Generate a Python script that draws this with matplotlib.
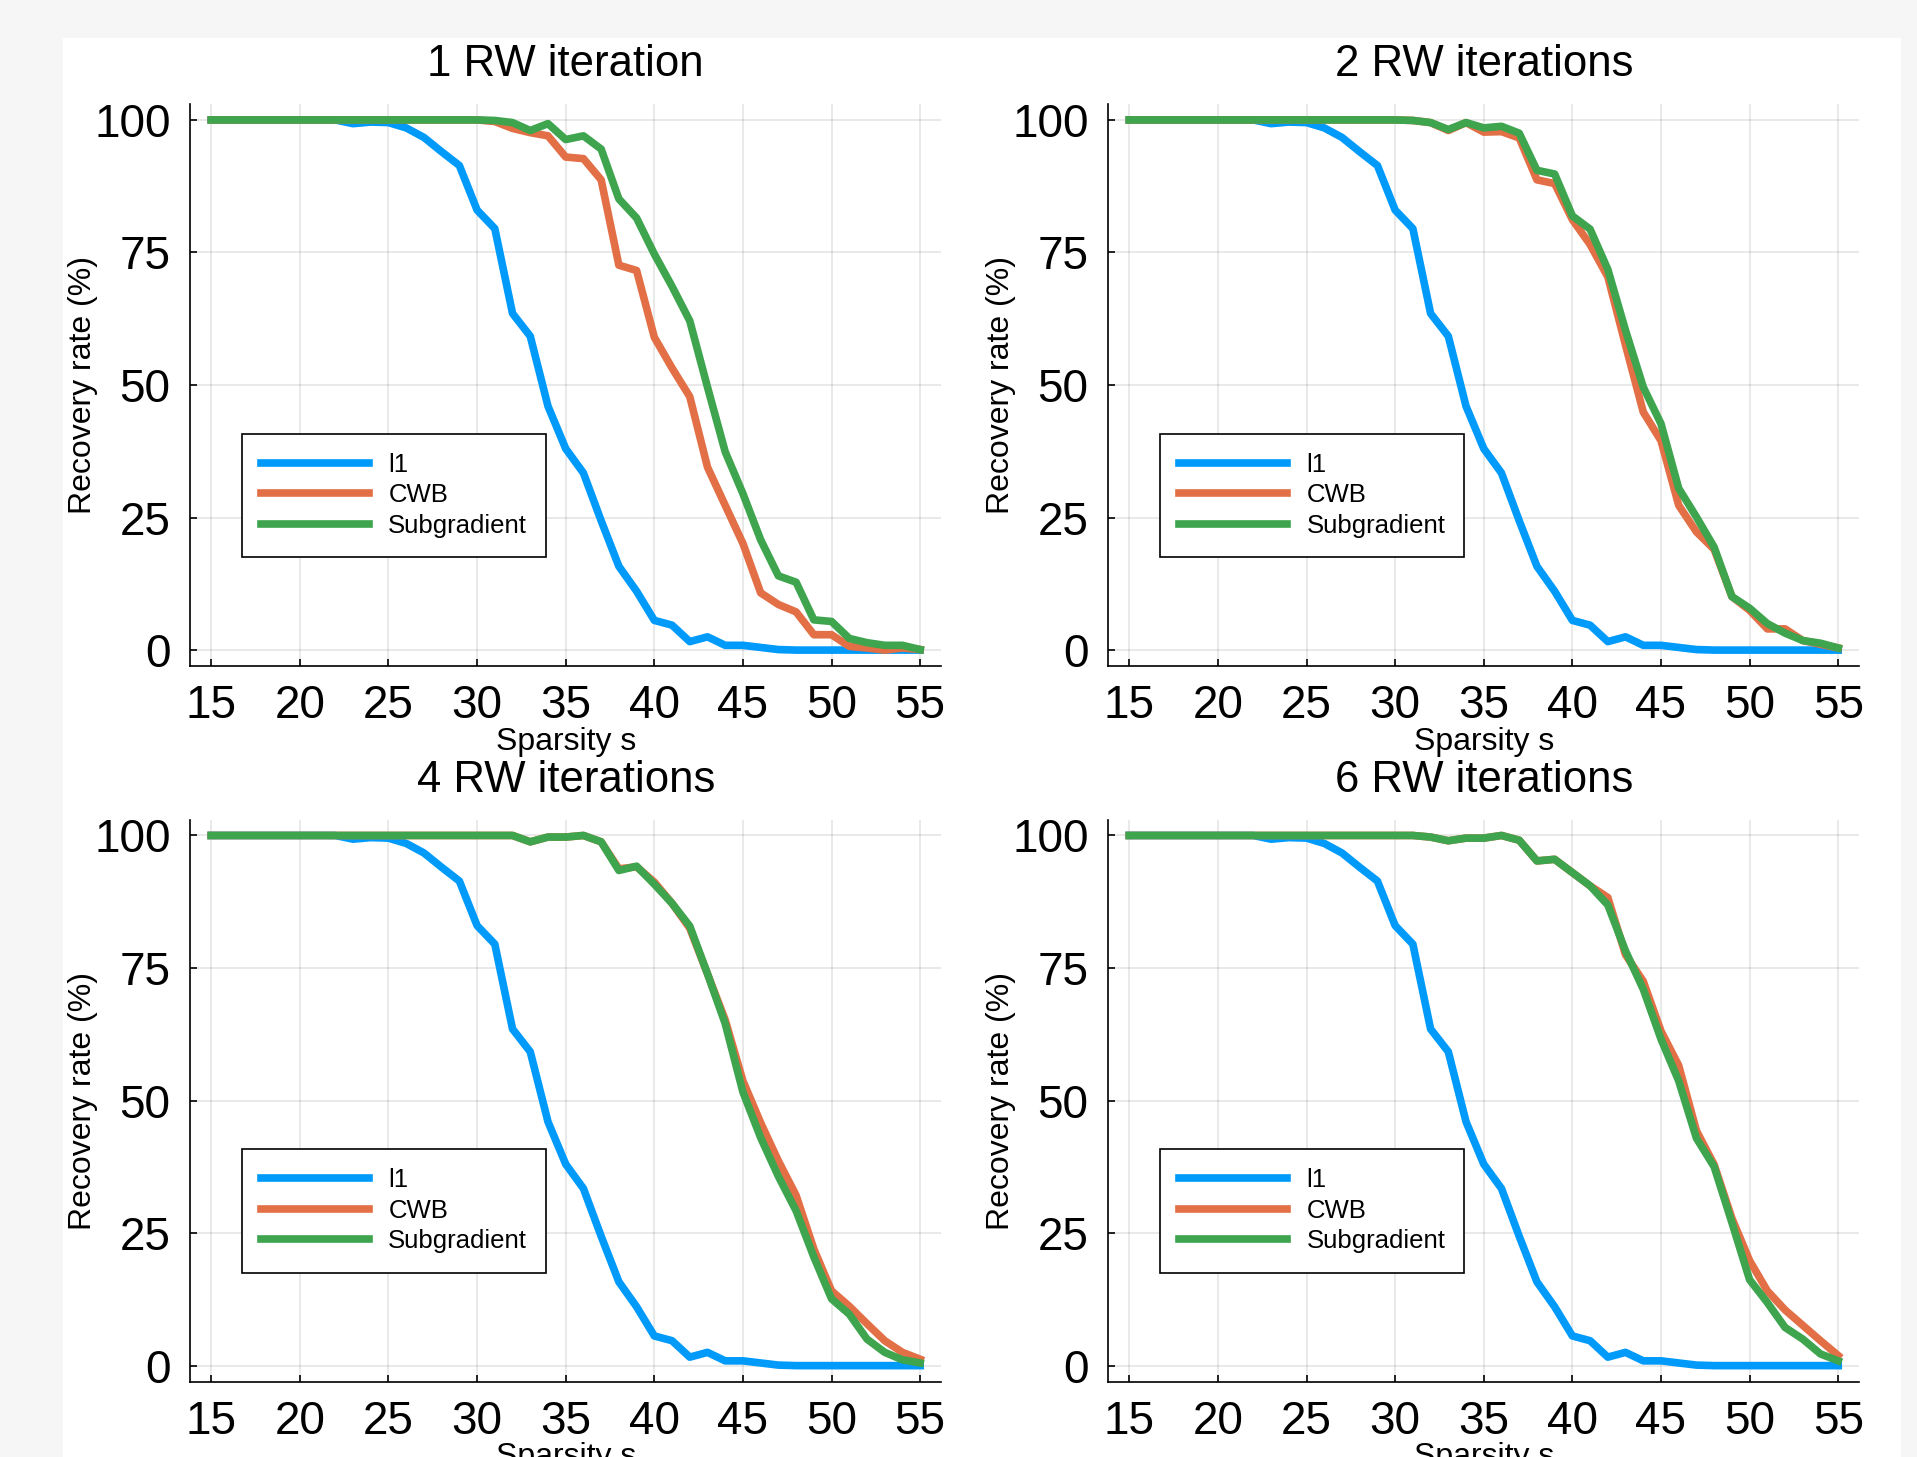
from matplotlib import pyplot as plt
from matplotlib.patches import Rectangle
import numpy as np

plt.rcParams['font.family'] = ['Liberation Sans', 'DejaVu Sans']

sparsity = list(range(15, 56))

# l1 is the same in every panel
l1 = [100, 100, 100, 100, 100, 100, 100, 100, 99.3, 99.6, 99.5, 98.5, 96.7, 94.0, 91.4, 83.0,
      79.5, 63.5, 59.2, 46.0, 38.0, 33.4, 24.4, 15.8, 11.1, 5.6, 4.7, 1.6, 2.5, 0.9, 0.9,
      0.5, 0.1, 0, 0, 0, 0, 0, 0, 0, 0]

cwb_1 = [100] * 16 + [99.7, 98.4, 97.6, 97.0, 93.0, 92.7, 88.7, 72.6, 71.6, 59.0,
                      53.2, 47.8, 34.5, 27.3, 20.1, 10.8, 8.6, 7.2, 2.9, 2.9,
                      0.7, 0.4, 0, 0.4, 0.1]
sub_1 = [100] * 16 + [99.9, 99.5, 98.0, 99.3, 96.3, 97.0, 94.5, 85.1, 81.5, 74.7,
                      68.6, 62.1, 49.6, 37.4, 29.5, 20.8, 14.0, 12.8, 5.7, 5.4,
                      2.2, 1.4, 0.9, 0.9, 0.1]

cwb_2 = [100] * 16 + [99.9, 99.5, 98.0, 99.5, 97.7, 97.8, 96.6, 88.7, 88.0, 81.2,
                      76.5, 70.4, 57.5, 44.9, 39.5, 27.3, 22.3, 19.0, 10.1, 7.5,
                      4.0, 4.0, 1.8, 1.1, 0.4]
sub_2 = [100] * 16 + [99.9, 99.5, 98.2, 99.5, 98.5, 98.8, 97.5, 90.5, 89.8, 81.9,
                      79.4, 71.8, 60.3, 49.6, 42.7, 30.5, 25.1, 19.4, 10.1, 7.9,
                      5.0, 3.2, 1.8, 1.3, 0.4]

cwb_4 = [100] * 16 + [100, 100, 98.8, 99.7, 99.7, 100, 98.8, 93.7, 94.1, 91.2,
                      87.2, 82.5, 73.9, 65.2, 53.7, 45.8, 38.6, 32.1, 22.0, 14.1,
                      11.2, 7.9, 4.7, 2.5, 1.2]
sub_4 = [100] * 16 + [100, 100, 98.8, 99.7, 99.7, 100, 98.8, 93.4, 94.2, 90.8,
                      87.2, 82.9, 73.9, 64.5, 51.6, 43.0, 35.7, 29.2, 20.5, 12.6,
                      9.7, 5.0, 2.5, 1.1, 0.5]

cwb_6 = [100] * 16 + [100, 99.7, 99.0, 99.5, 99.5, 100, 99.1, 95.2, 95.5, 93.0,
                      90.5, 88.3, 77.5, 72.5, 63.1, 56.6, 44.3, 37.9, 27.8, 19.8,
                      14.1, 10.5, 7.6, 4.7, 1.9]
sub_6 = [100] * 16 + [100, 99.7, 99.0, 99.5, 99.5, 100, 99.1, 95.2, 95.5, 93.0,
                      90.5, 86.9, 78.2, 71.0, 61.6, 53.7, 42.9, 37.5, 27.0, 16.2,
                      11.9, 7.2, 5.0, 2.2, 0.9]

titles = ['1 RW iteration', '2 RW iterations', '4 RW iterations', '6 RW iterations']
cwb_all = [cwb_1, cwb_2, cwb_4, cwb_6]
sub_all = [sub_1, sub_2, sub_4, sub_6]

colors = ['#009AFA', '#E26F46', '#3EA44E']  # julia default palette

fig = plt.figure(figsize=(19.17, 14.57), dpi=100, facecolor='#f6f6f6')
fig.patches.append(Rectangle((0.0329, 0), 0.9588, 0.9739, transform=fig.transFigure,
                             facecolor='white', edgecolor='none', zorder=-10))

lefts = [0.0991, 0.578, 0.0991, 0.578]
bottoms = [0.5429, 0.5429, 0.0518, 0.0518]

for i in range(4):
    ax = fig.add_axes([lefts[i], bottoms[i], 0.392, 0.3857])
    ax.set_facecolor('white')
    ax.plot(sparsity, l1, color=colors[0], lw=5.5, label='l1')
    ax.plot(sparsity, cwb_all[i], color=colors[1], lw=5.5, label='CWB')
    ax.plot(sparsity, sub_all[i], color=colors[2], lw=5.5, label='Subgradient')

    ax.set_xlim(13.8, 56.2)
    ax.set_ylim(-3, 103)
    ax.set_xticks(range(15, 56, 5))
    ax.set_yticks([0, 25, 50, 75, 100])
    ax.grid(True, color='black', alpha=0.1, lw=1.2)
    ax.set_axisbelow(True)
    for side in ['top', 'right']:
        ax.spines[side].set_visible(False)
    for side in ['left', 'bottom']:
        ax.spines[side].set_linewidth(1.2)
    ax.tick_params(direction='in', length=5, width=1.2, labelsize=33)
    ax.tick_params(axis='x', pad=13)
    ax.tick_params(axis='y', pad=14)

    ax.set_title(titles[i], fontsize=31.5, pad=20)
    ax.set_xlabel('Sparsity s', fontsize=23, labelpad=-1)
    ax.set_ylabel('Recovery rate (%)', fontsize=23, labelpad=-3)

    leg = ax.legend(loc='lower left', bbox_to_anchor=(0.069, 0.194), fontsize=18.5,
                    handlelength=4.2, handletextpad=0.75, labelspacing=0.25,
                    borderpad=0.75, borderaxespad=0, fancybox=False, framealpha=1)
    leg.get_frame().set_edgecolor('black')
    leg.get_frame().set_linewidth(1.2)

plt.savefig('out.png', dpi=100, facecolor=fig.get_facecolor())
